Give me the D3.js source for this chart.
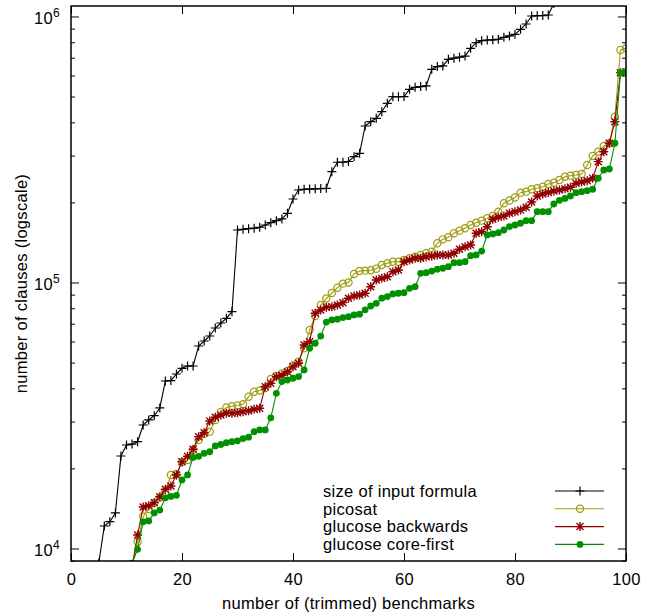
<!DOCTYPE html>
<html>
<head>
<meta charset="utf-8">
<script src="https://cdn.jsdelivr.net/npm/d3@7"></script>
<style>
body { margin: 0; background: #fff; }
text { font-family: "Liberation Sans", Arial, sans-serif; font-size: 16.5px; letter-spacing: 0.3px; fill: #000; }
</style>
</head>
<body>
<svg id="chart" width="652" height="616"></svg>
<script>
// values; x = benchmark index, starting at *Start
const xTicks = [0, 20, 40, 60, 80, 100]
const yTickExps = [4, 5, 6]
const seriesNames = ["size of input formula", "picosat", "glucose backwards", "glucose core-first"]

const formulaStart = 5
const formula = [8800, 12150, 12610, 13600, 22270, 24490, 24700, 25200, 29130, 30420, 31560, 33750,
    42630, 42800, 45290, 47580, 48540, 48540, 57710, 60260, 62930, 67430, 70410, 73340, 77660,
    157500, 158500, 159300, 160000, 161300, 164500, 167800, 170800, 173300, 182000, 206000,
    222700, 224000, 224500, 225000, 225500, 226000, 260900, 283100, 283100, 285000, 297100, 306000,
    387600, 402200, 414300, 438600, 471700, 499400, 499400, 500000, 532400, 541700, 545000, 548000,
    633000, 648000, 652000, 690000, 697000, 703000, 710000, 759000, 797000, 811000, 816000, 817000,
    821000, 835000, 845000, 857000, 895000, 937000, 1004000, 1007000, 1008000, 1013000, 1120000]

const picosatStart = 11
const picosat = [8700, 10580, 13190, 14080, 14830, 15550, 16310, 18890, 19060, 21150, 21520, 23460,
    25590, 26950, 27490, 30420, 32610, 33900, 34240, 34480, 34840, 37210, 38860, 39260, 40130,
    43370, 44510, 45490, 46480, 48750, 50380, 56570, 66290, 74840, 82300, 87050, 91300, 95600,
    99000, 100000, 107600, 110500, 110800, 111200, 112600, 116400, 118100, 119700, 119700, 121500,
    123300, 125000, 126900, 128800, 130500, 140400, 145300, 147900, 153100, 156600, 159900, 164500,
    167800, 170800, 174300, 177800, 184600, 198500, 203400, 208700, 217600, 219500, 224100, 226000,
    229200, 234600, 237300, 242900, 249900, 252100, 253600, 255900, 276600, 299000, 310200, 326100,
    333700, 420000, 748400, 759500]

const backwardsStart = 11
const backwards = [8500, 11240, 14320, 14480, 14870, 15660, 16700, 17180, 18890, 21200, 22220, 23600,
    26330, 27250, 30160, 31140, 31760, 32240, 32240, 32400, 32690, 32960, 33370, 33660, 40580,
    41790, 44250, 44780, 46200, 48250, 49690, 58210, 59900, 76600, 78800, 80700, 81100, 82300,
    84000, 87200, 88900, 89700, 91100, 96400, 102200, 103700, 105100, 109800, 111400, 119700,
    121500, 123300, 123300, 125000, 125800, 126900, 126900, 126900, 128800, 133300, 136300, 138400,
    153100, 155200, 162100, 172800, 175800, 177800, 182000, 184600, 187300, 191800, 200800, 211400,
    215100, 217900, 220800, 222700, 225200, 228000, 236000, 238700, 241400, 246500, 284600, 310200,
    333700, 402200, 614900, 620300]

const coreFirstStart = 11
const coreFirst = [8800, 9930, 12600, 12700, 13600, 13950, 15500, 15700, 15850, 18100, 18900, 22000,
    22200, 22800, 23100, 24300, 24600, 25000, 25200, 25400, 25900, 26200, 27500, 27900, 27900,
    31000, 38300, 42400, 43000, 43650, 44300, 46900, 56600, 59100, 62900, 71000, 72300, 72800,
    73800, 74400, 75500, 76000, 78900, 81600, 83500, 87300, 88500, 90600, 91100, 91600, 95100,
    96400, 108300, 108900, 110400, 112200, 113100, 114700, 118700, 118700, 119700, 126100, 126900,
    131300, 150900, 152200, 153900, 157500, 162200, 164500, 167000, 170800, 170800, 184600, 184600,
    184600, 197300, 203700, 207000, 211400, 217600, 219500, 221400, 224100, 246500, 264800, 267100,
    333700, 615000, 620000]

const svg = d3.select("#chart")
const margin = {top: 6, right: 26, bottom: 55, left: 71}
const width = svg.attr("width") - margin.left - margin.right
const height = svg.attr("height") - margin.top - margin.bottom

const x = d3.scaleLinear().domain([0, 100]).range([margin.left, margin.left + width])
const y = d3.scaleLog().domain([8974, 1.095e6]).range([margin.top + height, margin.top])

svg.append("clipPath").attr("id", "plot")
    .append("rect")
    .attr("x", margin.left).attr("y", margin.top)
    .attr("width", width).attr("height", height)

const majors = yTickExps.map(e => Math.pow(10, e))
const minors = []
yTickExps.forEach(e => { for (let k = 2; k <= 9; k++) minors.push(k * Math.pow(10, e - 1)) })
const minorIn = minors.filter(v => v > y.domain()[0] && v < y.domain()[1])

function tickAxis(axis, transform) {
    const g = svg.append("g").attr("transform", transform).call(axis)
    g.select(".domain").remove()
    g.selectAll("line").attr("stroke", "#000")
    return g
}

// x axis bottom with labels, top mirror
tickAxis(d3.axisBottom(x).tickValues(xTicks).tickSizeInner(-8).tickSizeOuter(0).tickPadding(12),
    "translate(0," + (margin.top + height) + ")")
    .selectAll("text").attr("font-size", null).attr("font-family", null)
tickAxis(d3.axisTop(x).tickValues(xTicks).tickSizeInner(-8).tickSizeOuter(0).tickFormat(""),
    "translate(0," + margin.top + ")")

// y axis: major and minor ticks on both sides
tickAxis(d3.axisLeft(y).tickValues(majors).tickSizeInner(-8).tickSizeOuter(0).tickFormat(""),
    "translate(" + margin.left + ",0)")
tickAxis(d3.axisLeft(y).tickValues(minorIn).tickSizeInner(-4).tickSizeOuter(0).tickFormat(""),
    "translate(" + margin.left + ",0)")
tickAxis(d3.axisRight(y).tickValues(majors).tickSizeInner(-8).tickSizeOuter(0).tickFormat(""),
    "translate(" + (margin.left + width) + ",0)")
tickAxis(d3.axisRight(y).tickValues(minorIn).tickSizeInner(-4).tickSizeOuter(0).tickFormat(""),
    "translate(" + (margin.left + width) + ",0)")

svg.selectAll("text.ylab")
    .data(yTickExps)
    .enter().append("text")
    .attr("class", "ylab")
    .attr("x", margin.left - 11)
    .attr("y", d => y(Math.pow(10, d)) + 8)
    .attr("text-anchor", "end")
    .each(function(d) {
        const t = d3.select(this)
        t.append("tspan").text("10")
        t.append("tspan").attr("dy", -7).style("font-size", "12px").text(d)
    })

svg.append("text")
    .attr("x", margin.left + width / 2)
    .attr("y", 609)
    .attr("text-anchor", "middle")
    .text("number of (trimmed) benchmarks")

svg.append("text")
    .attr("transform", "translate(27," + (margin.top + height / 2) + ") rotate(-90)")
    .attr("text-anchor", "middle")
    .text("number of clauses (logscale)")

// series
const series = [
    {name: seriesNames[0], start: formulaStart, values: formula, color: "#000000", mark: "plus"},
    {name: seriesNames[1], start: picosatStart, values: picosat, color: "#a09c10", mark: "circle"},
    {name: seriesNames[2], start: backwardsStart, values: backwards, color: "#900000", mark: "star"},
    {name: seriesNames[3], start: coreFirstStart, values: coreFirst, color: "#009000", mark: "dot"}
]

const line = d3.line()
    .x(d => x(d.n))
    .y(d => y(d.v))

function drawMark(g, kind, color) {
    if (kind === "plus") {
        g.append("path").attr("d", "M-4.5,0H4.5M0,-4.5V4.5")
            .attr("stroke", color).attr("stroke-width", 1.2).attr("fill", "none")
    } else if (kind === "star") {
        g.append("path").attr("d", "M-4.5,0H4.5M0,-4.5V4.5M-3.5,-3.5L3.5,3.5M-3.5,3.5L3.5,-3.5")
            .attr("stroke", color).attr("stroke-width", 1.4).attr("fill", "none")
    } else if (kind === "circle") {
        g.append("circle").attr("r", 3.6)
            .attr("stroke", color).attr("stroke-width", 1.2).attr("fill", "none")
    } else {
        g.append("circle").attr("r", 3.4).attr("fill", color)
    }
}

const plot = svg.append("g").attr("clip-path", "url(#plot)")

series.forEach(s => {
    const pts = s.values.map((v, i) => ({n: s.start + i, v: v}))
    plot.append("path")
        .attr("d", line(pts))
        .attr("fill", "none")
        .attr("stroke", s.color)
        .attr("stroke-width", 1.1)
    plot.selectAll(null)
        .data(pts)
        .enter().append("g")
        .attr("transform", d => "translate(" + x(d.n) + "," + y(d.v) + ")")
        .each(function() { drawMark(d3.select(this), s.mark, s.color) })
})

// legend
const legend = svg.append("g")
series.forEach((s, i) => {
    const ly = 491 + i * 17.8
    legend.append("text")
        .attr("x", 323)
        .attr("y", ly + 5.8)
        .text(s.name)
    legend.append("line")
        .attr("x1", 555).attr("x2", 604)
        .attr("y1", ly).attr("y2", ly)
        .attr("stroke", s.color).attr("stroke-width", 1.1)
    const m = legend.append("g").attr("transform", "translate(580," + ly + ")")
    drawMark(m, s.mark, s.color)
})

svg.append("rect")
    .attr("x", margin.left).attr("y", margin.top)
    .attr("width", width).attr("height", height)
    .attr("fill", "none")
    .attr("stroke", "#000")
    .attr("stroke-width", 1.5)
</script>
</body>
</html>
